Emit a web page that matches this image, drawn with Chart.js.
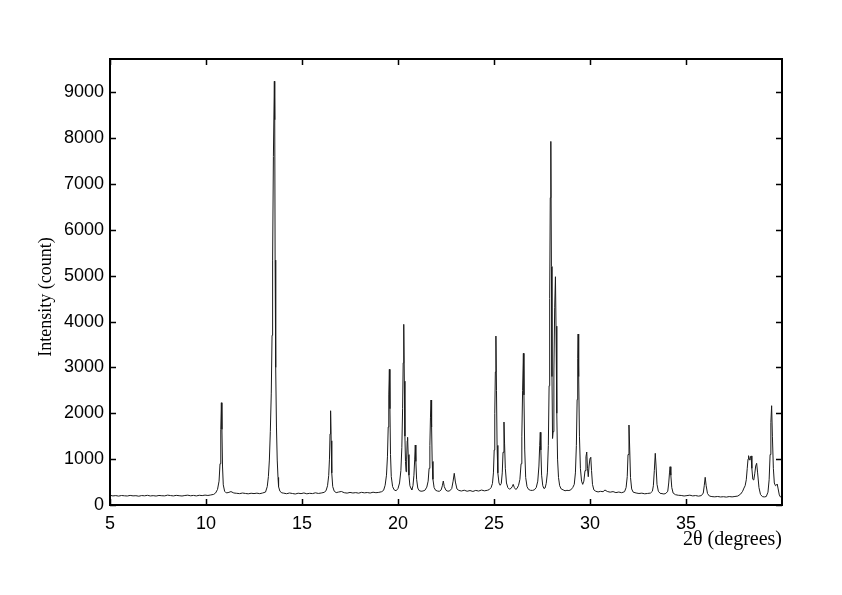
<!DOCTYPE html>
<html>
<head>
<meta charset="utf-8">
<script src="https://cdn.jsdelivr.net/npm/chart.js@4/dist/chart.umd.min.js"></script>
<style>
  html, body { margin: 0; padding: 0; background: #fff; }
  canvas { display: block; }
</style>
</head>
<body>
<canvas id="xrd" width="842" height="595"></canvas>
<script>
// diffraction scan (2theta in degrees, intensity in counts)
const twoTheta = [
  5.00, 5.15, 5.30, 5.45, 5.60, 5.75, 5.90, 6.05, 6.20, 6.35,
  6.50, 6.65, 6.80, 6.95, 7.10, 7.25, 7.40, 7.55, 7.70, 7.85,
  8.00, 8.15, 8.30, 8.45, 8.60, 8.75, 8.90, 9.05, 9.20, 9.35,
  9.50, 9.65, 9.80, 9.95, 10.10, 10.25, 10.40,
  10.50, 10.60, 10.68, 10.73, 10.77, 10.80, 10.83, 10.86, 10.90, 10.97, 11.05,
  11.15, 11.30, 11.45, 11.60, 11.75, 11.90, 12.05, 12.20, 12.35, 12.50, 12.65, 12.80, 12.95,
  13.10, 13.19, 13.25, 13.30, 13.35, 13.40, 13.44, 13.47, 13.51, 13.56, 13.58, 13.60, 13.63, 13.67, 13.71, 13.75, 13.78, 13.85, 13.95,
  14.05, 14.20, 14.35, 14.50, 14.65, 14.80, 14.95, 15.10, 15.25, 15.40, 15.55, 15.70, 15.85, 16.00, 16.15,
  16.25, 16.33, 16.39, 16.43, 16.46, 16.49, 16.52, 16.55, 16.60, 16.68, 16.78,
  16.90, 17.05, 17.20, 17.35, 17.50, 17.65, 17.80, 17.95, 18.10, 18.25, 18.40, 18.55, 18.70, 18.85, 19.00, 19.15,
  19.25, 19.33, 19.40, 19.45, 19.49, 19.52, 19.55, 19.58, 19.61, 19.65, 19.72, 19.80, 19.90, 20.00,
  20.08, 20.15, 20.20, 20.24, 20.27, 20.30, 20.33, 20.36, 20.39, 20.42, 20.45, 20.48, 20.50, 20.53, 20.57, 20.62, 20.68,
  20.72, 20.78, 20.83, 20.87, 20.90, 20.93, 20.97, 21.03, 21.10, 21.20, 21.30, 21.40, 21.50,
  21.57, 21.62, 21.66, 21.69, 21.72, 21.75, 21.78, 21.82, 21.88, 21.96, 22.05, 22.15, 22.25,
  22.31, 22.36, 22.41, 22.50, 22.60, 22.70, 22.80, 22.87, 22.93, 22.99, 23.07, 23.17,
  23.30, 23.45, 23.60, 23.75, 23.90, 24.05, 24.20, 24.35, 24.50, 24.65, 24.75, 24.85,
  24.92, 24.97, 25.01, 25.04, 25.07, 25.10, 25.13, 25.16, 25.20, 25.26, 25.32, 25.38, 25.43,
  25.47, 25.52, 25.55, 25.59, 25.65, 25.72, 25.80, 25.88, 25.95, 26.00, 26.06, 26.13, 26.20, 26.28,
  26.35, 26.41, 26.45, 26.49, 26.53, 26.56, 26.60, 26.65, 26.72, 26.80, 26.90, 27.00, 27.10, 27.20,
  27.28, 27.34, 27.38, 27.41, 27.44, 27.48, 27.54, 27.60, 27.66, 27.72,
  27.78, 27.83, 27.87, 27.90, 27.93, 27.96, 27.99, 28.02, 28.05, 28.08, 28.12, 28.16, 28.20, 28.23, 28.27, 28.31, 28.36, 28.42,
  28.50, 28.60, 28.70, 28.80, 28.90, 29.00, 29.10,
  29.18, 29.24, 29.29, 29.33, 29.36, 29.38, 29.41, 29.45, 29.50, 29.56, 29.62, 29.68,
  29.74, 29.79, 29.83, 29.87, 29.91, 29.95, 30.00, 30.04, 30.08, 30.13, 30.20,
  30.30, 30.42, 30.55, 30.68, 30.78, 30.90, 31.05, 31.20, 31.35, 31.50, 31.65, 31.80,
  31.88, 31.94, 31.98, 32.03, 32.07, 32.11, 32.17, 32.25,
  32.40, 32.55, 32.70, 32.85, 33.00, 33.15, 33.25,
  33.30, 33.35, 33.40, 33.44, 33.49, 33.56, 33.65, 33.75, 33.85, 33.95, 34.05, 34.10, 34.14, 34.17, 34.21, 34.26, 34.33,
  34.45, 34.60, 34.75, 34.90, 35.05, 35.20, 35.35, 35.50, 35.65, 35.80, 35.90,
  35.95, 36.00, 36.05, 36.12, 36.22, 36.35, 36.50, 36.65, 36.80, 36.95, 37.10, 37.25, 37.40, 37.55, 37.70, 37.85, 37.95,
  38.02, 38.08, 38.14, 38.19, 38.23, 38.26, 38.30, 38.33, 38.36, 38.39, 38.43, 38.48, 38.53, 38.58,
  38.63, 38.68, 38.73, 38.80, 38.88, 38.98, 39.08, 39.18, 39.27,
  39.33, 39.38, 39.42, 39.46, 39.50, 39.55, 39.60, 39.66, 39.72, 39.75, 39.80, 39.86, 39.92, 39.98
];

const counts = [
  212, 198, 205, 194, 207, 201, 196, 209, 199, 203,
  192, 206, 200, 211, 197, 204, 195, 208, 202, 199,
  215, 206, 198, 210, 203, 196, 207, 214, 201, 209,
  198, 212, 205, 216, 208, 219, 232,
  262, 340, 520, 900, 1650, 2230, 1650, 850, 440, 300, 265,
  270, 292, 262, 255, 248, 261, 252, 244, 256, 249, 258, 247, 262,
  282, 400, 620, 980, 1600, 2440, 3700, 5340, 7600, 9240, 8400, 5340, 3000, 1700, 980, 600, 400, 300, 265,
  258, 246, 262, 251, 240, 257, 248, 263, 244, 255, 249, 266, 252, 261, 275,
  310, 420, 640, 1000, 1550, 2055, 1400, 700, 400, 300, 270,
  282, 295, 268, 259, 274, 262, 270, 258, 276, 265, 272, 261, 279, 268, 275, 290,
  320, 430, 650, 1050, 1700, 2400, 2958, 2100, 1100, 620, 400, 330, 310, 360,
  480, 750, 1250, 2100, 3100, 3939, 2700, 1500, 950, 726, 1000, 1400, 1476, 1100, 650, 420, 360,
  330, 420, 650, 1000, 1308, 950, 560, 370, 315, 300, 305, 320, 390,
  520, 800, 1300, 1900, 2289, 1700, 950, 560, 380, 320, 305, 298, 330,
  420, 523, 400, 320, 300, 310, 360, 520, 691, 500, 350, 318,
  305, 322, 300, 315, 296, 318, 304, 326, 309, 320, 335, 380,
  470, 700, 1200, 2000, 2900, 3684, 2500, 1300, 700, 480, 430, 470, 700,
  1150, 1809, 1350, 800, 480, 380, 345, 360, 400, 450, 380, 340, 360, 430,
  560, 900, 1500, 2500, 3307, 2400, 1200, 600, 400, 340, 320, 318, 330, 380,
  520, 850, 1300, 1585, 1200, 650, 420, 360, 370, 470,
  700, 1300, 2600, 4500, 6700, 7928, 5200, 2800, 1450, 1600, 2900, 4300, 4977, 3900, 2000, 1000, 600, 420,
  350, 330, 310, 320, 315, 330, 380,
  450, 700, 1300, 2300, 3200, 3728, 2800, 1500, 800, 520, 450, 520,
  750, 1050, 1155, 800, 617, 850, 1020, 1040, 750, 450, 330,
  300, 285, 298, 290, 327, 295, 280, 292, 270, 283, 268, 290,
  380, 620, 1100, 1744, 1200, 600, 350, 280,
  262, 251, 258, 244, 252, 260, 300,
  420, 750, 1127, 850, 450, 300, 255, 248, 240, 252, 300, 480, 700, 835, 650, 380, 260,
  225, 212, 208, 196, 205, 214, 198, 206, 193, 205, 260,
  420, 604, 420, 250, 195, 183, 178, 186, 175, 181, 172, 184, 177, 186, 195, 240, 300,
  370, 420, 550, 800, 1000, 1075, 990, 980, 1050, 1070, 800, 560, 545, 680,
  850, 909, 700, 380, 230, 182, 176, 185, 280,
  550, 1100, 1800, 2165, 1500, 800, 480, 420, 440, 458, 350, 220, 175, 172
];

const xTicks = [5, 10, 15, 20, 25, 30, 35];
const yTicks = [0, 1000, 2000, 3000, 4000, 5000, 6000, 7000, 8000, 9000];
const xRange = [5, 40];
const yRange = [0, 9725];
const xTitle = '2\u03b8 (degrees)';
const yTitle = 'Intensity (count)';

if (twoTheta.length !== counts.length) console.warn('length mismatch', twoTheta.length, counts.length);

// MATLAB style box with inward ticks on all four sides + the axis titles
const boxAxes = {
  id: 'boxAxes',
  afterDraw(chart) {
    const { ctx, chartArea: a, scales } = chart;
    const x = scales.x, y = scales.y;
    const tl = 6;
    ctx.save();
    ctx.strokeStyle = '#000';
    ctx.lineWidth = 1.5;
    ctx.beginPath();
    x.ticks.forEach(t => {
      const px = Math.round(x.getPixelForValue(t.value)) + 0.5;
      ctx.moveTo(px, a.bottom); ctx.lineTo(px, a.bottom - tl);
      ctx.moveTo(px, a.top); ctx.lineTo(px, a.top + tl);
    });
    y.ticks.forEach(t => {
      const py = Math.round(y.getPixelForValue(t.value)) + 0.5;
      ctx.moveTo(a.left, py); ctx.lineTo(a.left + tl, py);
      ctx.moveTo(a.right, py); ctx.lineTo(a.right - tl, py);
    });
    ctx.stroke();
    ctx.lineWidth = 2;
    ctx.strokeRect(a.left, a.top, a.right - a.left, a.bottom - a.top);

    ctx.fillStyle = '#000';
    ctx.textBaseline = 'middle';
    ctx.font = '20px "Liberation Serif", "Times New Roman", serif';
    ctx.textAlign = 'right';
    ctx.fillText(xTitle, a.right, a.bottom + 35);

    ctx.font = '18px "Liberation Serif", "Times New Roman", serif';
    ctx.translate(46, (a.top + a.bottom) / 2 + 15);
    ctx.rotate(-Math.PI / 2);
    ctx.textAlign = 'center';
    ctx.fillText(yTitle, 0, 0);
    ctx.restore();
  }
};

const tickFont = { family: '"Liberation Sans", Arial, sans-serif', size: 18 };

new Chart(document.getElementById('xrd'), {
  type: 'line',
  data: {
    datasets: [{
      data: twoTheta.map((t, i) => ({ x: t, y: counts[i] })),
      borderColor: '#1a1a1a',
      borderWidth: 1,
      pointRadius: 0,
      tension: 0,
      fill: false
    }]
  },
  options: {
    responsive: false,
    animation: false,
    events: [],
    layout: { padding: { top: 59, right: 60, left: 0, bottom: 0 } },
    plugins: { legend: { display: false }, tooltip: { enabled: false } },
    scales: {
      x: {
        type: 'linear',
        min: xRange[0],
        max: xRange[1],
        grid: { display: false, drawTicks: false },
        border: { display: false },
        ticks: { maxRotation: 0, autoSkip: false, padding: 8, color: '#000', font: tickFont, callback: v => String(v) },
        afterBuildTicks: s => { s.ticks = xTicks.map(v => ({ value: v })); },
        afterFit: s => { s.height = 90; }
      },
      y: {
        min: yRange[0],
        max: yRange[1],
        grid: { display: false, drawTicks: false },
        border: { display: false },
        ticks: { autoSkip: false, padding: 6, color: '#000', font: tickFont, callback: v => String(v) },
        afterBuildTicks: s => { s.ticks = yTicks.map(v => ({ value: v })); },
        afterFit: s => { s.width = 110; }
      }
    }
  },
  plugins: [boxAxes]
});
</script>
</body>
</html>
